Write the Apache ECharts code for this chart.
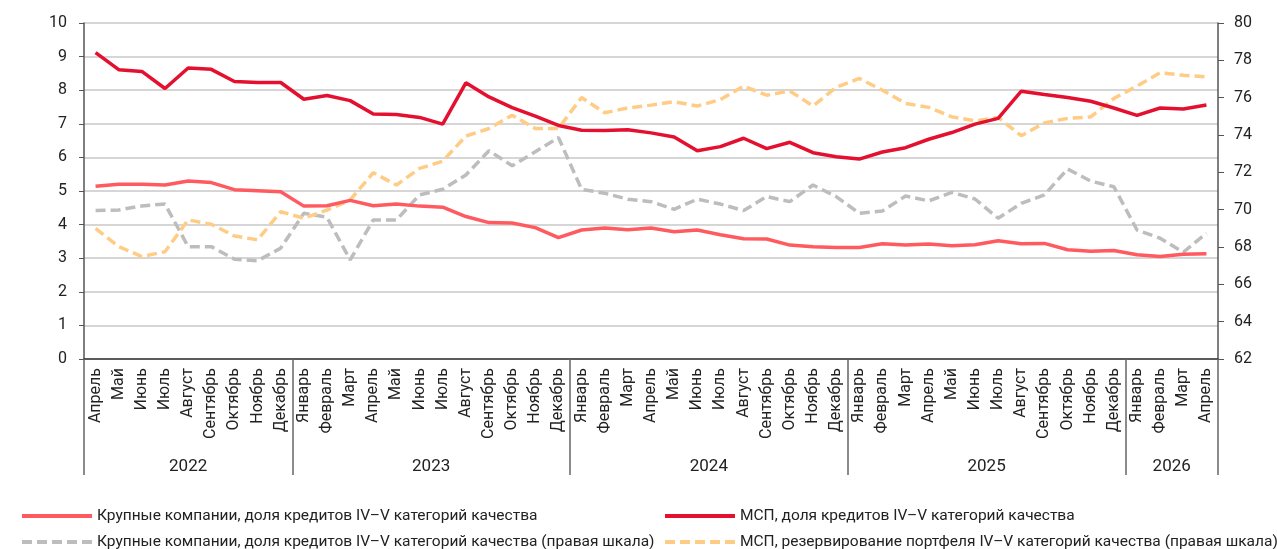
<!DOCTYPE html>
<html>
<head>
<meta charset="utf-8">
<script src="https://cdn.jsdelivr.net/npm/echarts@6/dist/echarts.min.js"></script>
<style>
  html, body { margin: 0; padding: 0; background: #fff; }
  #chart { width: 1277px; height: 549px; }
</style>
</head>
<body>
<div id="chart"></div>
<script>
// категории: месяцы с апреля 2022 по апрель 2026
const months = [
  "Апрель", "Май", "Июнь", "Июль", "Август", "Сентябрь", "Октябрь", "Ноябрь", "Декабрь",
  "Январь", "Февраль", "Март", "Апрель", "Май", "Июнь", "Июль", "Август", "Сентябрь", "Октябрь", "Ноябрь", "Декабрь",
  "Январь", "Февраль", "Март", "Апрель", "Май", "Июнь", "Июль", "Август", "Сентябрь", "Октябрь", "Ноябрь", "Декабрь",
  "Январь", "Февраль", "Март", "Апрель", "Май", "Июнь", "Июль", "Август", "Сентябрь", "Октябрь", "Ноябрь", "Декабрь",
  "Январь", "Февраль", "Март", "Апрель"
];
const years = ["2022", "2023", "2024", "2025", "2026"];
const monthsInYear = [9, 12, 12, 12, 4];

// левая шкала, %
const largeShare = [
  5.14, 5.20, 5.20, 5.18, 5.30, 5.25, 5.04, 5.01, 4.98,
  4.55, 4.56, 4.72, 4.56, 4.61, 4.55, 4.52, 4.24, 4.06, 4.05, 3.91, 3.61,
  3.84, 3.90, 3.85, 3.90, 3.79, 3.84, 3.70, 3.58, 3.57, 3.39, 3.34, 3.32,
  3.32, 3.43, 3.39, 3.42, 3.37, 3.40, 3.52, 3.43, 3.44, 3.25, 3.21, 3.23,
  3.10, 3.05, 3.12, 3.13
];
const smeShare = [
  9.12, 8.61, 8.56, 8.05, 8.66, 8.62, 8.26, 8.23, 8.23,
  7.73, 7.84, 7.69, 7.29, 7.28, 7.19, 6.99, 8.22, 7.80, 7.48, 7.23, 6.95,
  6.81, 6.80, 6.82, 6.73, 6.61, 6.20, 6.32, 6.57, 6.26, 6.45, 6.14, 6.02,
  5.95, 6.16, 6.29, 6.54, 6.74, 6.99, 7.16, 7.97, 7.87, 7.78, 7.67, 7.47,
  7.25, 7.47, 7.44, 7.56
];
// правая шкала, %
const largeReserve = [
  69.95, 69.98, 70.20, 70.30, 68.02, 68.02, 67.35, 67.26, 67.94,
  69.81, 69.59, 67.31, 69.45, 69.45, 70.79, 71.09, 71.86, 73.16, 72.35, 73.10, 73.87,
  71.09, 70.88, 70.56, 70.43, 70.02, 70.56, 70.30, 69.95, 70.70, 70.43, 71.32, 70.70,
  69.81, 69.93, 70.73, 70.47, 70.93, 70.57, 69.54, 70.34, 70.79, 72.18, 71.53, 71.23,
  68.91, 68.47, 67.72, 68.74
];
const smeReserve = [
  69.00, 68.02, 67.49, 67.75, 69.45, 69.22, 68.59, 68.38, 69.89,
  69.54, 69.98, 70.52, 71.98, 71.32, 72.21, 72.60, 73.94, 74.35, 75.06, 74.35, 74.35,
  76.01, 75.19, 75.45, 75.60, 75.78, 75.55, 75.90, 76.62, 76.13, 76.36, 75.55, 76.55,
  77.03, 76.40, 75.69, 75.48, 74.97, 74.76, 74.94, 73.96, 74.65, 74.89, 74.97, 75.96,
  76.62, 77.33, 77.20, 77.11
];

const names = [
  "Крупные компании, доля кредитов IV–V категорий качества",
  "МСП, доля кредитов IV–V категорий качества",
  "Крупные компании, доля кредитов IV–V категорий качества (правая шкала)",
  "МСП, резервирование портфеля IV–V категорий качества (правая шкала)"
];

// границы и середины лет на шкале месяцев
const yearBounds = [0];
monthsInYear.forEach(n => yearBounds.push(yearBounds[yearBounds.length - 1] + n));
const yearMids = years.map((y, i) => (yearBounds[i] + yearBounds[i + 1]) / 2);

const font = "Roboto, 'Noto Sans', sans-serif";
const textColor = "#222";

const chart = echarts.init(document.getElementById("chart"));

// легенда в две колонки: по одной записи на каждую позицию
const legendPos = [[20, 508], [663, 508], [20, 534], [663, 534]];
const legends = names.map((n, i) => ({
  data: [n],
  left: legendPos[i][0],
  top: legendPos[i][1],
  padding: 0,
  itemWidth: 70,
  itemHeight: 14,
  itemGap: 0,
  itemStyle: { opacity: 0 },
  lineStyle: { width: 4 },
  textStyle: { fontSize: 15.5, color: textColor, fontFamily: font }
}));

const option = {
  animation: false,
  textStyle: { fontFamily: font },
  grid: { left: 84, right: 59, top: 23, bottom: 190, containLabel: false },
  legend: legends,
  xAxis: [
    {
      type: "category",
      data: months,
      boundaryGap: true,
      axisLine: { lineStyle: { color: "#333", width: 1.5 } },
      axisTick: { interval: 0, length: 84, lineStyle: { color: "#333", width: 1 } },
      axisLabel: { interval: 0, rotate: 90, margin: 9, fontSize: 16, color: textColor, fontFamily: font }
    },
    {
      type: "value",
      position: "bottom",
      min: 0,
      max: months.length,
      axisLine: { show: false },
      splitLine: { show: false },
      axisTick: {
        show: true,
        length: 116,
        customValues: yearBounds,
        lineStyle: { color: "#666", width: 1.5 }
      },
      axisLabel: {
        margin: 99,
        fontSize: 17,
        color: textColor,
        fontFamily: font,
        customValues: yearMids,
        formatter: v => years[yearMids.indexOf(v)] || ""
      }
    }
  ],
  yAxis: [
    {
      type: "value",
      min: 0,
      max: 10,
      interval: 1,
      axisLine: { show: true, lineStyle: { color: "#555", width: 1.5 } },
      axisTick: { show: true, length: 5, lineStyle: { color: "#555" } },
      axisLabel: { fontSize: 16, color: textColor, margin: 17, fontFamily: font },
      splitLine: { lineStyle: { color: "#c8c8c8", width: 1.5 } }
    },
    {
      type: "value",
      min: 62,
      max: 80,
      interval: 2,
      position: "right",
      axisLine: { show: true, lineStyle: { color: "#555", width: 1.5 } },
      axisTick: { show: true, length: 6, lineStyle: { color: "#555" } },
      axisLabel: { fontSize: 16, color: textColor, margin: 16, fontFamily: font },
      splitLine: { show: false }
    }
  ],
  series: [
    {
      name: names[2],
      type: "line",
      yAxisIndex: 1,
      symbol: "none",
      data: largeReserve,
      lineStyle: { color: "#bdbdbd", width: 3.5, type: [10, 5] },
      itemStyle: { color: "#bdbdbd" }
    },
    {
      name: names[3],
      type: "line",
      yAxisIndex: 1,
      symbol: "none",
      data: smeReserve,
      lineStyle: { color: "#ffcc85", width: 3.5, type: [10, 5] },
      itemStyle: { color: "#ffcc85" }
    },
    {
      name: names[0],
      type: "line",
      symbol: "none",
      data: largeShare,
      lineStyle: { color: "#ff5a5f", width: 3.5 },
      itemStyle: { color: "#ff5a5f" }
    },
    {
      name: names[1],
      type: "line",
      symbol: "none",
      data: smeShare,
      lineStyle: { color: "#e4102f", width: 3.5 },
      itemStyle: { color: "#e4102f" }
    }
  ]
};

chart.setOption(option);
</script>
</body>
</html>
